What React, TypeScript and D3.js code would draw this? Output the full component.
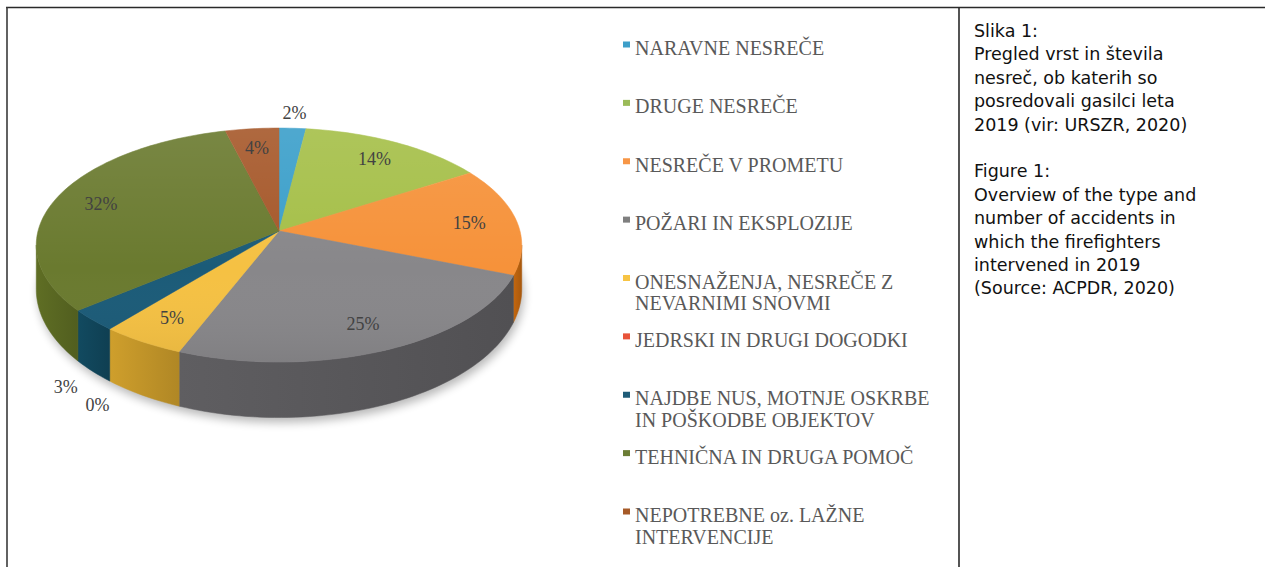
import React from "react";
import * as d3 from "d3";

const legendLines: string[][] = [
  ["NARAVNE NESREČE"],
  ["DRUGE NESREČE"],
  ["NESREČE V PROMETU"],
  ["POŽARI IN EKSPLOZIJE"],
  ["ONESNAŽENJA, NESREČE Z", "NEVARNIMI SNOVMI"],
  ["JEDRSKI IN DRUGI DOGODKI"],
  ["NAJDBE NUS, MOTNJE OSKRBE", "IN POŠKODBE OBJEKTOV"],
  ["TEHNIČNA IN DRUGA POMOČ"],
  ["NEPOTREBNE oz. LAŽNE", "INTERVENCIJE"],
];
const values = [2, 14, 15, 25, 5, 0, 3, 32, 4];
const topColors = ["#3b9fca", "#a5bf48", "#f6923a", "#88878a", "#f5c143", "#e8533a", "#1b5b78", "#6a7a2f", "#a6582a"];
const sideColors = ["#2a7396", "#7a8f2c", "#c4670f", "#5f5e61", "#cf9f2c", "#b03a22", "#124a60", "#5f6e24", "#7c3f18"];
const legendColors = ["#3d9fc9", "#9bbb59", "#f79646", "#7f7f7f", "#f7c444", "#e8533a", "#1f5c78", "#6b7d35", "#a65a28"];
const captionSl = ["Slika 1:", "Pregled vrst in števila", "nesreč, ob katerih so", "posredovali gasilci leta", "2019 (vir: URSZR, 2020)"];
const captionEn = ["Figure 1:", "Overview of the type and", "number of accidents in", "which the firefighters", "intervened in 2019", "(Source: ACPDR, 2020)"];

const W = 1265;
const H = 567;
// projected pie: centre (apex), radii and perspective factor
const cx = 279;
const cy = 231;
const R = 241;
const Ry = 115.3;
const k = 0.12;
const D = 43;

function persp(v: number) {
  return 1 / (1 - k * v);
}
// angle measured clockwise from 12 o'clock; v>0 is toward the viewer
function pt(a: number, r = 1, withDepth = false): [number, number] {
  const u = r * Math.sin(a);
  const v = -r * Math.cos(a);
  const s = persp(v);
  const dep = withDepth ? D * persp(-Math.cos(a)) ** 2 : 0;
  return [cx + R * u * s, cy + Ry * v * s + dep];
}

function arcPoints(a0: number, a1: number, withDepth = false): [number, number][] {
  const n = Math.max(2, Math.ceil(((a1 - a0) / (Math.PI * 2)) * 240));
  return d3.range(n + 1).map((i) => pt(a0 + ((a1 - a0) * i) / n, 1, withDepth));
}

const fmt = (p: [number, number]) => `${p[0].toFixed(2)},${p[1].toFixed(2)}`;

export default function App() {
  const pie = d3.pie<number>().sort(null).value((d) => d).startAngle(0).endAngle(Math.PI * 2);
  const arcs = pie(values);
  const apex: [number, number] = [cx, cy];

  // visible side range (silhouette of the projected rim)
  const sA = Math.acos(-k);
  const eA = Math.PI * 2 - Math.acos(-k);

  const sides = arcs
    .map((a, i) => {
      const s = Math.max(a.startAngle, sA);
      const e = Math.min(a.endAngle, eA);
      if (e <= s) return null;
      const top = arcPoints(s, e);
      const bot = arcPoints(s, e, true).reverse();
      const d = "M" + top.map(fmt).join("L") + "L" + bot.map(fmt).join("L") + "Z";
      const xs = top.map((p) => p[0]);
      return { i, d, x0: d3.min(xs)!, x1: d3.max(xs)! };
    })
    .filter(Boolean) as { i: number; d: string; x0: number; x1: number }[];

  const tops = arcs
    .map((a, i) => {
      if (a.endAngle - a.startAngle <= 0) return null;
      const pts = arcPoints(a.startAngle, a.endAngle);
      return { i, d: "M" + fmt(apex) + "L" + pts.map(fmt).join("L") + "Z" };
    })
    .filter(Boolean) as { i: number; d: string }[];

  const rim = "M" + arcPoints(0, Math.PI * 2).map(fmt).join("L") + "Z";
  const bottomRim = "M" + arcPoints(0, Math.PI * 2, true).map(fmt).join("L") + "Z";

  // labels
  type Lab = { i: number; x: number; y: number; outside: boolean };
  const labels: Lab[] = arcs.map((a, i) => {
    const mid = (a.startAngle + a.endAngle) / 2;
    const outside = values[i] < 4;
    const front = -Math.cos(mid) > 0;
    let p: [number, number];
    if (!outside) p = pt(mid, 0.8);
    else if (front) {
      const q = pt(mid, 1.1, true);
      p = [q[0], q[1] + 9];
    } else p = pt(mid, 1.17);
    return { i, x: p[0], y: p[1], outside };
  });
  const outs = labels.filter((l) => l.outside);
  for (let iter = 0; iter < 300; iter++) {
    let moved = false;
    for (let a = 0; a < outs.length; a++) {
      for (let b = a + 1; b < outs.length; b++) {
        const A = outs[a];
        const B = outs[b];
        const dx = B.x - A.x;
        const dy = B.y - A.y;
        if (Math.abs(dx) < 36 && Math.abs(dy) < 18) {
          const len = Math.hypot(dx, dy) || 1;
          A.x -= (dx / len) * 0.5;
          A.y -= (dy / len) * 0.5;
          B.x += (dx / len) * 0.5;
          B.y += (dy / len) * 0.5;
          moved = true;
        }
      }
    }
    if (!moved) break;
  }

  const legendY = d3
    .scalePoint<number>()
    .domain(d3.range(values.length))
    .range([55, 522]);

  const capY0 = 37;
  const capStep = 23.4;

  return (
    <svg
      width={W}
      height={H}
      viewBox={`0 0 ${W} ${H}`}
      style={{ position: "absolute", left: 0, top: 0, background: "#fff" }}
    >
      <defs>
        <filter id="shadowBlur" x="-20%" y="-30%" width="140%" height="160%">
          <feGaussianBlur stdDeviation="5" />
        </filter>
        <linearGradient id="topShade" x1="0" y1="0" x2="0" y2="1">
          <stop offset="0" stopColor="#fff" stopOpacity={0.1} />
          <stop offset="0.6" stopColor="#fff" stopOpacity={0} />
          <stop offset="1" stopColor="#000" stopOpacity={0.06} />
        </linearGradient>
        {sides.map((s) => (
          <linearGradient
            key={s.i}
            id={`side${s.i}`}
            gradientUnits="userSpaceOnUse"
            x1={s.x0}
            x2={s.x1}
            y1={0}
            y2={0}
          >
            <stop offset="0" stopColor={sideColors[s.i]} />
            <stop offset="1" stopColor={d3.color(sideColors[s.i])!.darker(0.45).formatHex()} />
          </linearGradient>
        ))}
      </defs>

      {/* frame */}
      <line x1={6} y1={7.5} x2={W} y2={7.5} stroke="#2a2a2a" strokeWidth={1.6} />
      <line x1={7} y1={7} x2={7} y2={H} stroke="#3a3a3a" strokeWidth={1.6} />
      <line x1={959} y1={7} x2={959} y2={H} stroke="#2a2a2a" strokeWidth={1.6} />

      {/* shadow */}
      <path
        d={bottomRim}
        transform="translate(2,5)"
        fill="#000"
        opacity={0.28}
        filter="url(#shadowBlur)"
      />

      {/* sides */}
      {sides.map((s) => (
        <path key={s.i} d={s.d} fill={`url(#side${s.i})`} stroke={`url(#side${s.i})`} strokeWidth={0.5} />
      ))}

      {/* tops */}
      {tops.map((t) => (
        <path key={t.i} d={t.d} fill={topColors[t.i]} stroke={topColors[t.i]} strokeWidth={0.5} />
      ))}
      <path d={rim} fill="url(#topShade)" />

      {/* data labels */}
      {labels.map((l) => (
        <text
          key={l.i}
          x={l.x}
          y={l.y}
          dy="0.35em"
          textAnchor="middle"
          fontFamily="'Liberation Serif', 'Times New Roman', serif"
          fontSize={18}
          fill="#424242"
        >
          {`${values[l.i]}%`}
        </text>
      ))}

      {/* legend */}
      {legendLines.map((lines, i) => {
        const y = legendY(i)!;
        return (
          <g key={i}>
            <rect x={623} y={y - 13.5} width={7} height={6} fill={legendColors[i]} />
            {lines.map((s, j) => (
              <text
                key={j}
                x={635}
                y={y + j * 21.5}
                fontFamily="'Liberation Serif', 'Times New Roman', serif"
                fontSize={20}
                fill="#595959"
              >
                {s}
              </text>
            ))}
          </g>
        );
      })}

      {/* caption */}
      {[...captionSl, "", ...captionEn].map((s, i) => (
        <text
          key={i}
          x={974}
          y={capY0 + i * capStep}
          fontFamily="'DejaVu Sans', sans-serif"
          fontSize={17.5}
          fill="#111"
        >
          {s}
        </text>
      ))}
    </svg>
  );
}
